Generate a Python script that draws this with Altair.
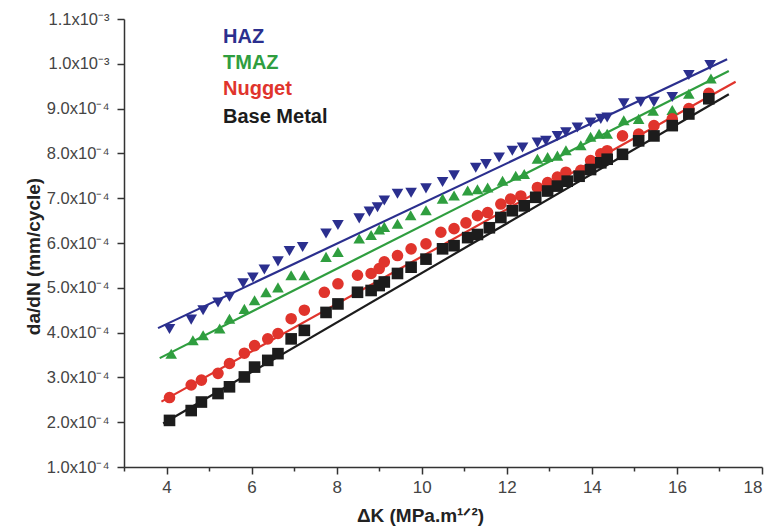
import altair as alt
import pandas as pd

# ---- data (da/dN in mm/cycle, x = ΔK) ----
series_names = ["HAZ", "TMAZ", "Nugget", "Base Metal"]
series_colors = ["#2b2f8e", "#2f9e3f", "#e0342c", "#1c1c1c"]
series_shapes = ["triangle-down", "triangle-up", "circle", "square"]

haz_x = [4.07, 4.58, 4.86, 5.21, 5.48, 5.80, 6.03, 6.30, 6.62, 6.89, 7.20, 7.75, 8.03, 8.53, 8.77,
         8.96, 9.12, 9.43, 9.75, 10.10, 10.49, 10.76, 11.27, 11.51, 11.82, 12.13, 12.37, 12.72,
         12.92, 13.19, 13.39, 13.66, 13.97, 14.21, 14.36, 14.75, 15.15, 15.46, 15.89, 16.28, 16.78]
haz_y = [4.08, 4.29, 4.50, 4.67, 4.80, 5.10, 5.23, 5.41, 5.59, 5.82, 5.91, 6.21, 6.40, 6.55, 6.70,
         6.80, 6.95, 7.10, 7.12, 7.22, 7.36, 7.51, 7.68, 7.76, 7.91, 8.06, 8.13, 8.24,
         8.28, 8.39, 8.47, 8.58, 8.69, 8.77, 8.80, 9.12, 9.15, 9.15, 9.26, 9.75, 9.97]

tmaz_x = [4.11, 4.62, 4.86, 5.25, 5.48, 5.83, 6.07, 6.34, 6.62, 6.93, 7.24, 7.75, 8.03, 8.53, 8.81,
          9.00, 9.12, 9.43, 9.74, 10.10, 10.49, 10.76, 11.08, 11.31, 11.55, 11.90, 12.21, 12.41,
          12.72, 12.96, 13.19, 13.39, 13.74, 13.97, 14.17, 14.36, 14.75, 15.10, 15.44, 15.89,
          16.28, 16.80]
tmaz_y = [3.53, 3.83, 3.94, 4.09, 4.31, 4.53, 4.72, 4.90, 5.01, 5.28, 5.28, 5.69, 5.80, 6.10, 6.18,
          6.30, 6.36, 6.43, 6.62, 6.73, 6.99, 7.06, 7.17, 7.20, 7.24, 7.39, 7.50, 7.54,
          7.88, 7.92, 7.95, 8.07, 8.18, 8.37, 8.44, 8.44, 8.74, 8.77, 8.95, 8.97,
          9.33, 9.67]

nugget_x = [4.07, 4.58, 4.82, 5.21, 5.48, 5.83, 6.07, 6.38, 6.62, 6.93, 7.24, 7.71, 8.03, 8.49, 8.81,
            9.00, 9.12, 9.43, 9.75, 10.10, 10.45, 10.76, 11.04, 11.31, 11.55, 11.86, 12.09, 12.33,
            12.72, 12.96, 13.19, 13.39, 13.74, 13.97, 14.21, 14.36, 14.72, 15.10, 15.46, 15.89,
            16.28, 16.75]
nugget_y = [2.55, 2.83, 2.94, 3.09, 3.31, 3.54, 3.71, 3.86, 3.98, 4.31, 4.50, 4.90, 5.09, 5.28, 5.32,
            5.43, 5.58, 5.72, 5.87, 5.98, 6.24, 6.32, 6.45, 6.61, 6.68, 6.87, 6.98, 7.05,
            7.24, 7.35, 7.47, 7.58, 7.62, 7.84, 7.99, 8.06, 8.39, 8.43, 8.62, 8.77,
            9.00, 9.34]

base_x = [4.07, 4.58, 4.82, 5.21, 5.48, 5.83, 6.07, 6.38, 6.62, 6.93, 7.24, 7.75, 8.03, 8.49, 8.81,
          9.00, 9.12, 9.43, 9.75, 10.10, 10.49, 10.76, 11.08, 11.31, 11.59, 11.86, 12.13, 12.41,
          12.68, 12.96, 13.19, 13.42, 13.70, 13.97, 14.21, 14.36, 14.72, 15.10, 15.46, 15.89,
          16.28, 16.75]
base_y = [2.04, 2.26, 2.45, 2.64, 2.79, 3.01, 3.23, 3.38, 3.53, 3.86, 4.05, 4.45, 4.64, 4.90, 4.94,
          5.05, 5.13, 5.32, 5.46, 5.64, 5.87, 5.94, 6.12, 6.19, 6.34, 6.57, 6.72, 6.83,
          7.02, 7.16, 7.27, 7.38, 7.49, 7.64, 7.79, 7.87, 7.98, 8.28, 8.39, 8.62,
          8.88, 9.22]

# linear fit lines (end points)
fit_x = {"HAZ": [3.80, 17.18], "TMAZ": [3.84, 17.22], "Nugget": [3.88, 17.38], "Base Metal": [3.92, 17.22]}
fit_y = {"HAZ": [4.10, 10.10], "TMAZ": [3.43, 9.84], "Nugget": [2.46, 9.60], "Base Metal": [1.97, 9.32]}

scale_factor = 1e-4  # values above are in units of 1e-4 mm/cycle

x_ticks = list(range(3, 19))
y_ticks = [round(i * 0.00005, 6) for i in range(2, 23)]

# ---- build tables ----
rows = []
for name, xs, ys in [("HAZ", haz_x, haz_y), ("TMAZ", tmaz_x, tmaz_y),
                     ("Nugget", nugget_x, nugget_y), ("Base Metal", base_x, base_y)]:
    for xv, yv in zip(xs, ys):
        rows.append({"series": name, "dK": xv, "dadN": yv * scale_factor})
pts = pd.DataFrame(rows)

frows = []
for name in series_names:
    for xv, yv in zip(fit_x[name], fit_y[name]):
        frows.append({"series": name, "dK": xv, "dadN": yv * scale_factor})
fits = pd.DataFrame(frows)

FONT = "Liberation Sans"

x_scale = alt.Scale(domain=[3, 18], nice=False, zero=False)
y_scale = alt.Scale(domain=[0.0001, 0.0011], nice=False, zero=False)
color_scale = alt.Scale(domain=series_names, range=series_colors)
shape_scale = alt.Scale(domain=series_names, range=series_shapes)

x_axis = alt.Axis(
    values=x_ticks,
    labelExpr="datum.value % 2 == 0 ? datum.label : ''",
    tickSize={"condition": {"test": "datum.value % 2 == 1", "value": 4}, "value": 7},
    grid=False,
    title="ΔK (MPa.m¹ᐟ²)",
    titleFont=FONT, titleFontSize=19, titleFontWeight="bold", titleColor="#222222",
    titleX=296, titleY=54, titleBaseline="alphabetic", titleAlign="center",
    labelFont=FONT, labelFontSize=17, labelColor="#444444", labelPadding=5,
    domainColor="#333333", domainWidth=1.5, tickColor="#333333", tickWidth=1.5,
)
y_axis = alt.Axis(
    values=y_ticks,
    labelExpr="round(datum.value*20000) % 2 == 1 ? '' : (datum.value > 0.00095 ? format(datum.value*1000, '.1f') + 'x10⁻³' : format(datum.value*10000, '.1f') + 'x10⁻⁴')",
    tickSize={"condition": {"test": "round(datum.value*20000) % 2 == 1", "value": 4}, "value": 7},
    grid=False,
    title="da/dN (mm/cycle)",
    titleFont=FONT, titleFontSize=19, titleFontWeight="bold", titleColor="#222222",
    titleX=-91, titleY=237, titleBaseline="middle", titleAlign="center", titleAngle=270,
    labelFont=FONT, labelFontSize=16.5, labelColor="#444444", labelPadding=8,
    domainColor="#333333", domainWidth=1.5, tickColor="#333333", tickWidth=1.5,
)

lines = alt.Chart(fits).mark_line(strokeWidth=2.2).encode(
    x=alt.X("dK:Q", scale=x_scale, axis=x_axis),
    y=alt.Y("dadN:Q", scale=y_scale, axis=y_axis),
    color=alt.Color("series:N", scale=color_scale, legend=None),
    detail="series:N",
)

points = alt.Chart(pts).mark_point(filled=True, opacity=1).encode(
    x=alt.X("dK:Q", scale=x_scale),
    y=alt.Y("dadN:Q", scale=y_scale),
    color=alt.Color("series:N", scale=color_scale, legend=None),
    shape=alt.Shape("series:N", scale=shape_scale, legend=None),
    size=alt.Size("series:N", scale=alt.Scale(domain=series_names, range=[135, 135, 80, 64]), legend=None),
)

legend_y = [24, 50, 76, 104]
legend_layers = []
for name, col, ly in zip(series_names, series_colors, legend_y):
    legend_layers.append(
        alt.Chart(pd.DataFrame({"label": [name]})).mark_text(
            font=FONT, fontSize=20, fontWeight="bold", align="left", baseline="alphabetic", color=col
        ).encode(text="label:N", x=alt.value(99), y=alt.value(ly))
    )

chart = alt.layer(lines, points, *legend_layers).properties(
    width=638, height=448,
    autosize=alt.AutoSizeParams(type="none"),
    padding={"left": 124, "top": 19, "right": 10, "bottom": 64},
    background="white",
).configure_view(stroke=None)

chart.save("out.html", embed_options={"renderer": "svg", "actions": False})
